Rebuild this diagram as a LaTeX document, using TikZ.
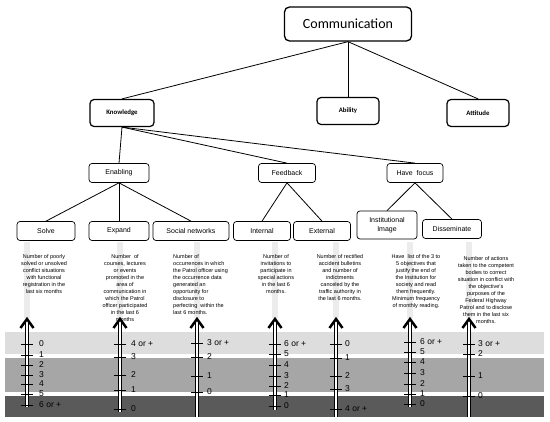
\documentclass[tikz,border=0pt]{standalone}
\usepackage{fontspec}
\setmainfont{Liberation Sans}
\newfontfamily\calfont{Carlito}
\usetikzlibrary{positioning}
\definecolor{BandLight}{RGB}{221,221,221}
\definecolor{BandMid}{RGB}{166,166,166}
\definecolor{BandDark}{RGB}{90,90,90}
\definecolor{StripGrey}{RGB}{236,236,236}
\tikzset{
  topbox/.style={draw,rounded corners=5pt,line width=1.3pt,
                 minimum width=127pt,minimum height=34pt,
                 font=\calfont\fontsize{14}{16}\selectfont},
  catbox/.style={draw,rounded corners=4pt,line width=1.2pt,
                 minimum width=64pt,minimum height=27pt,
                 font=\calfont\bfseries\fontsize{6.8}{8}\selectfont},
  subbox/.style={draw,rounded corners=3pt,line width=0.7pt,
                 minimum width=58pt,minimum height=19pt,align=center,
                 font=\fontsize{7}{8.5}\selectfont},
  desc/.style={align=center,inner sep=0pt,font=\fontsize{5.5}{7}\selectfont},
  link/.style={line width=0.8pt},
  axis/.style={double,line width=1.3pt,double distance=2.2pt},
  axtip/.style={line width=2.5pt},
  tickmark/.style={line width=0.9pt},
  scorelbl/.style={anchor=west,inner sep=0pt,font=\fontsize{8.5}{9}\selectfont},
}

\begin{document}
\begin{tikzpicture}[x=1pt,y=-1pt]
\useasboundingbox (0,0) rectangle (550,422);
\fill[white] (0,0) rectangle (550,422);

% score bands
\fill[BandLight] (5,332) rectangle (544,354);
\fill[BandMid] (5,358) rectangle (544,392);
\fill[BandDark] (5,396) rectangle (544,417);
\foreach \x in {27,120,197,275,336,410,469}
  \fill[StripGrey] (\x-3,242) rectangle (\x+3,318);

% tree
\node[topbox] (comm) at (348,24) {Communication};
\node[catbox] (know) at (122,113) {Knowledge};
\node[catbox, minimum width=62pt] (abil) at (348,111) {Ability};
\node[catbox, minimum width=62pt] (atti) at (478,113) {Attitude};
\node[subbox, minimum width=60pt] (enab) at (119,173) {Enabling};
\node[subbox, minimum width=57pt] (feed) at (287,173) {Feedback};
\node[subbox, minimum width=56pt] (focus) at (415,173) {Have\ \ focus};
\node[subbox] (solve) at (46,231) {Solve};
\node[subbox, minimum width=60pt] (expand) at (119,231) {Expand};
\node[subbox, minimum width=76pt] (social) at (191,231) {Social networks};
\node[subbox, minimum width=57pt] (internal) at (262,231) {Internal};
\node[subbox, minimum width=57pt] (external) at (322,231) {External};
\node[subbox, minimum width=60pt, minimum height=28pt] (inst) at (387,225) {Institutional\\Image};
\node[subbox, minimum width=59pt] (dissem) at (452,229) {Disseminate};

\draw[link] (comm.south) -- (know.north);
\draw[link] (comm.south) -- (abil.north);
\draw[link] (comm.south) -- (atti.north);
\draw[link] (know.south) -- (enab.north);
\draw[link] (know.south) -- (feed.north);
\draw[link] (know.south) -- (focus.north);
\draw[link] (enab.south) -- (solve.north);
\draw[link] (enab.south) -- (expand.north);
\draw[link] (enab.south) -- (social.north);
\draw[link] (feed.south) -- (internal.north);
\draw[link] (feed.south) -- (external.north);
\draw[link] (focus.south) -- (inst.north);
\draw[link] (focus.south) -- (dissem.north);

% indicator texts
\node[desc, anchor=north] (d1) at (44,254) {Number of poorly\\solved or unsolved\\conflict situations\\with functional\\registration in the\\last six months};
\node[desc, anchor=north] (d2) at (125,254) {Number\ \ of\\courses, lectures\\or events\\promoted in the\\area of\\communication in\\which the Patrol\\officer participated\\in the last 6\\months};
\node[desc, anchor=north west, align=left] (d3) at (173,254) {Number of\\occurrences in which\\the Patrol officer using\\the occurrence data\\generated an\\opportunity for\\disclosure to\\perfecting\ \ within the\\last 6 months.};
\node[desc, anchor=north] (d4) at (276,254) {Number of\\invitations to\\participate in\\special actions\\in the last 6\\months.};
\node[desc, anchor=north] (d5) at (340,254) {Number of rectified\\accident bulletins\\and number of\\indictments\\canceled by the\\traffic authority in\\the last 6 months.};
\node[desc, anchor=north] (d6) at (416,254) {Have\ \ list of the 3 to\\5 objectives that\\justify the end of\\the Institution for\\society and read\\them frequently.\\Minimum frequency\\of monthly reading.};
\node[desc, anchor=north] (d7) at (486,256) {Number of actions\\taken to the competent\\bodies to correct\\situation in conflict with\\the objective's\\purposes of the\\Federal Highway\\Patrol and to disclose\\them in the last six\\months.};

% scales
\coordinate (t1) at (27,319);  \coordinate (b1) at (27,407);
\coordinate (t2) at (120,319); \coordinate (b2) at (120,412);
\coordinate (t3) at (197,319); \coordinate (b3) at (197,417);
\coordinate (t4) at (275,319); \coordinate (b4) at (275,410);
\coordinate (t5) at (336,319); \coordinate (b5) at (336,417);
\coordinate (t6) at (410,319); \coordinate (b6) at (410,407);
\coordinate (t7) at (469,319); \coordinate (b7) at (469,417);

\foreach \i in {1,...,7} {
  \draw[axis] (b\i) -- ([yshift=-3pt]t\i);
  \draw[axtip] ([xshift=-6.5pt,yshift=-9pt]t\i) -- (t\i) -- ([xshift=6.5pt,yshift=-9pt]t\i);
}

\foreach \y/\s in {344/0,355/1,365/2,375/3,384/4,394/5,405/6 or +} {
  \draw[tickmark] (21,\y) -- (33,\y);
  \node[scorelbl] (s1-\y) at (39,\y) {\s};
}
\foreach \y/\s in {344/4 or +,357/3,375/2,390/1,409/0} {
  \draw[tickmark] (114,\y) -- (126,\y);
  \node[scorelbl] (s2-\y) at (131,\y) {\s};
}
\foreach \y/\s in {343/3 or +,357/2,376/1,392/0} {
  \draw[tickmark] (191,\y) -- (203,\y);
  \node[scorelbl] (s3-\y) at (207,\y) {\s};
}
\foreach \y/\s in {344/6 or +,354/5,365/4,376/3,386/2,395/1,406/0} {
  \draw[tickmark] (269,\y) -- (281,\y);
  \node[scorelbl] (s4-\y) at (284,\y) {\s};
}
\foreach \y/\s in {344/0,358/1,376/2,389/3,409/4 or +} {
  \draw[tickmark] (330,\y) -- (342,\y);
  \node[scorelbl] (s5-\y) at (345,\y) {\s};
}
\foreach \y/\s in {342/6 or +,352/5,362/4,373/3,384/2,394/1,404/0} {
  \draw[tickmark] (404,\y) -- (416,\y);
  \node[scorelbl] (s6-\y) at (420,\y) {\s};
}
\foreach \y/\s in {344/3 or +,354/2,376/1,396/0} {
  \draw[tickmark] (463,\y) -- (475,\y);
  \node[scorelbl] (s7-\y) at (478,\y) {\s};
}
\end{tikzpicture}
\end{document}
